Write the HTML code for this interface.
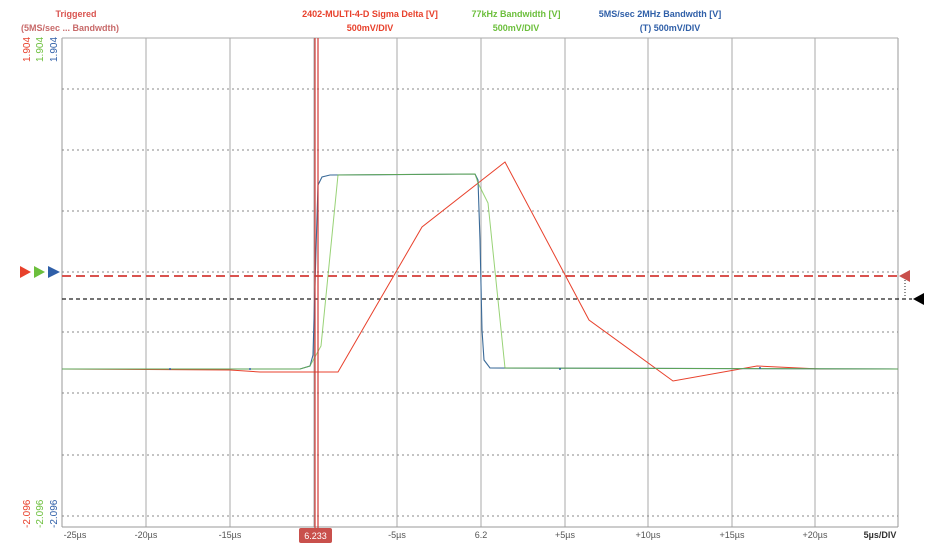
<!DOCTYPE html>
<html><head><meta charset="utf-8"><style>
body{margin:0;background:#fff;width:934px;height:545px;overflow:hidden}
text{font-family:"Liberation Sans",sans-serif}
</style></head><body>
<svg width="934" height="545" xmlns="http://www.w3.org/2000/svg">
<g font-size="9" font-weight="bold" text-anchor="middle">
<text x="76" y="17" fill="#d9534f">Triggered</text>
<text x="70" y="31" fill="#c86a6a">(5MS/sec  ... Bandwdth)</text>
<text x="370" y="17" fill="#e8412c">2402-MULTI-4-D  Sigma Delta [V]</text>
<text x="370" y="31" fill="#e8412c">500mV/DIV</text>
<text x="516" y="17" fill="#6cbf3c">77kHz Bandwidth [V]</text>
<text x="516" y="31" fill="#6cbf3c">500mV/DIV</text>
<text x="660" y="17" fill="#2f5fa8">5MS/sec    2MHz Bandwdth [V]</text>
<text x="670" y="31" fill="#2f5fa8">(T) 500mV/DIV</text>
</g>
<g stroke="#aaa" stroke-width="1">
<line x1="62" y1="38" x2="62" y2="527" stroke="#999"/>
<line x1="146" y1="38" x2="146" y2="527"/>
<line x1="230" y1="38" x2="230" y2="527"/>
<line x1="314" y1="38" x2="314" y2="527"/>
<line x1="397" y1="38" x2="397" y2="527"/>
<line x1="481" y1="38" x2="481" y2="527"/>
<line x1="565" y1="38" x2="565" y2="527"/>
<line x1="648" y1="38" x2="648" y2="527"/>
<line x1="732" y1="38" x2="732" y2="527"/>
<line x1="815" y1="38" x2="815" y2="527"/>
<line x1="898" y1="38" x2="898" y2="527" stroke="#999"/>
<line x1="62" y1="38" x2="898" y2="38"/>
<line x1="62" y1="527" x2="898" y2="527" stroke="#999"/>
</g>
<g stroke="#888" stroke-width="1" stroke-dasharray="2,3">
<line x1="62" y1="89" x2="898" y2="89"/>
<line x1="62" y1="150" x2="898" y2="150"/>
<line x1="62" y1="211" x2="898" y2="211"/>
<line x1="62" y1="272" x2="898" y2="272"/>
<line x1="62" y1="332" x2="898" y2="332"/>
<line x1="62" y1="393" x2="898" y2="393"/>
<line x1="62" y1="455" x2="898" y2="455"/>
<line x1="62" y1="516" x2="898" y2="516"/>
<line x1="905" y1="280" x2="905" y2="298" stroke="#222" stroke-dasharray="1,2"/>
</g>
<line x1="62" y1="276" x2="900" y2="276" stroke="#d9534f" stroke-width="2" stroke-dasharray="9,5"/>
<line x1="62" y1="299" x2="912" y2="299" stroke="#222" stroke-width="1.2" stroke-dasharray="4,3"/>
<polygon points="20,266 31,272 20,278" fill="#e8412c"/>
<polygon points="34,266 45,272 34,278" fill="#6cbf3c"/>
<polygon points="48,266 60,272 48,278" fill="#2f5fa8"/>
<polygon points="910,270 899,276 910,282" fill="#c9504c"/>
<polygon points="924,293 913,299 924,305" fill="#000"/>
<polyline fill="none" stroke="#e8412c" stroke-width="1" points="62,369 230,370 260,372 338,372 422,227 505,162 589,320 673,381 757,366 820,369 898,369"/>
<polyline fill="none" stroke="#3a6a98" stroke-width="1.1" points="62,369 300,369 310,366 313,355 316,250 318,185 322,177 330,175 475,174 478,180 480,240 482,330 484,360 490,368 898,369"/>
<polyline fill="none" stroke="#6cbf3c" stroke-width="1" stroke-opacity="0.7" points="62,369 300,369 310,366 321,346 338,175 475,174 478,183 488,203 505,368 898,369"/>
<g fill="#2f5fa8">
<circle cx="170" cy="369" r="1"/><circle cx="250" cy="369" r="1"/><circle cx="560" cy="369" r="1"/><circle cx="760" cy="368" r="1"/>
</g>
<line x1="315" y1="38" x2="315" y2="530" stroke="#d03a35" stroke-width="1.2"/>
<line x1="318" y1="38" x2="318" y2="530" stroke="#d03a35" stroke-width="1.2"/>
<rect x="299" y="528" width="33" height="15" rx="2" fill="#c9504c"/>
<text x="315.5" y="539" font-size="9" fill="#fff" text-anchor="middle">6.233</text>
<g font-size="9" fill="#555" text-anchor="middle">
<text x="75" y="538">-25µs</text><text x="146" y="538">-20µs</text><text x="230" y="538">-15µs</text>
<text x="397" y="538">-5µs</text><text x="481" y="538">6.2</text><text x="565" y="538">+5µs</text>
<text x="648" y="538">+10µs</text><text x="732" y="538">+15µs</text><text x="815" y="538">+20µs</text>
<text x="880" y="538" font-weight="bold" fill="#333">5µs/DIV</text>
</g>
<g font-size="10" text-anchor="start">
<text transform="translate(30,62) rotate(-90)" fill="#e8412c">1.904</text>
<text transform="translate(43,62) rotate(-90)" fill="#6cbf3c">1.904</text>
<text transform="translate(57,62) rotate(-90)" fill="#2f5fa8">1.904</text>
<text transform="translate(30,528) rotate(-90)" fill="#e8412c">-2.096</text>
<text transform="translate(43,528) rotate(-90)" fill="#6cbf3c">-2.096</text>
<text transform="translate(57,528) rotate(-90)" fill="#2f5fa8">-2.096</text>
</g>
</svg>
</body></html>
